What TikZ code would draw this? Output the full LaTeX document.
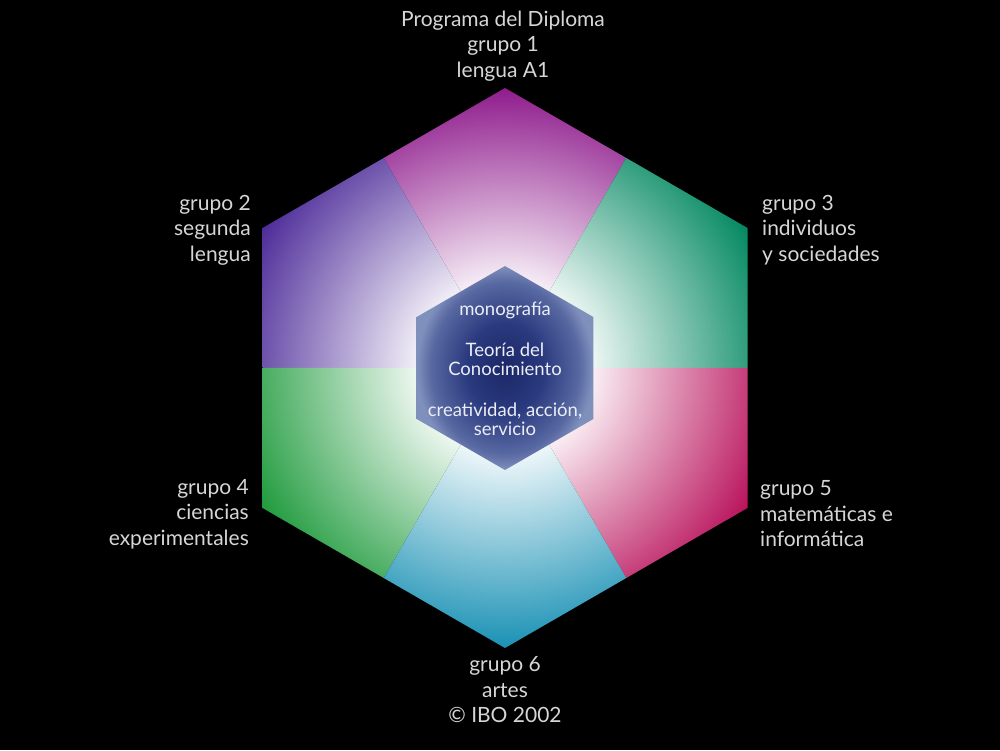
\documentclass[tikz,border=0pt]{standalone}
\usepackage{fontspec}
\setmainfont{Lato}
\definecolor{cA}{HTML}{8E1A8C}
\definecolor{cB}{HTML}{4C2A98}
\definecolor{cC}{HTML}{00875F}
\definecolor{cD}{HTML}{1E9A3C}
\definecolor{cE}{HTML}{B8105A}
\definecolor{cF}{HTML}{1890B4}
\definecolor{txt}{HTML}{D6D6D6}
\definecolor{navyA}{HTML}{1B2767}
\definecolor{navyB}{HTML}{2A3A7E}
\definecolor{navyC}{HTML}{5868A2}
\definecolor{navyD}{HTML}{8090BC}
\pgfdeclareradialshading{shA}{\pgfpoint{0bp}{0bp}}{color(0bp)=(white); color(6bp)=(white); color(23.5bp)=(cA); color(50bp)=(cA)}
\pgfdeclareradialshading{shB}{\pgfpoint{0bp}{0bp}}{color(0bp)=(white); color(6bp)=(white); color(23.5bp)=(cB); color(50bp)=(cB)}
\pgfdeclareradialshading{shC}{\pgfpoint{0bp}{0bp}}{color(0bp)=(white); color(6bp)=(white); color(23.5bp)=(cC); color(50bp)=(cC)}
\pgfdeclareradialshading{shD}{\pgfpoint{0bp}{0bp}}{color(0bp)=(white); color(6bp)=(white); color(23.5bp)=(cD); color(50bp)=(cD)}
\pgfdeclareradialshading{shE}{\pgfpoint{0bp}{0bp}}{color(0bp)=(white); color(6bp)=(white); color(23.5bp)=(cE); color(50bp)=(cE)}
\pgfdeclareradialshading{shF}{\pgfpoint{0bp}{0bp}}{color(0bp)=(white); color(6bp)=(white); color(23.5bp)=(cF); color(50bp)=(cF)}
\pgfdeclareradialshading{shIn}{\pgfpoint{0bp}{0bp}}{color(0bp)=(navyA); color(11bp)=(navyB); color(21bp)=(navyC); color(25bp)=(navyD); color(50bp)=(navyD)}
\tikzset{
  lbl/.style={text=txt, font=\fontsize{21}{25.5}\selectfont, inner sep=0pt},
  inlbl/.style={text=white!85!navyD, font=\fontsize{18.5}{19}\selectfont, inner sep=0pt, align=center}
}
\newcommand{\sector}[3]{%
  \begin{scope}
    \clip (0,0) -- (#1-30:242.5) -- (#1:280) -- (#1+30:242.5) -- cycle;
    \shade[shading=#2] (0,0) circle (300);
  \end{scope}}
\begin{document}
\begin{tikzpicture}[x=1pt,y=1pt]
\fill[black] (0,0) rectangle (1000,750);
\useasboundingbox (0,0) rectangle (1000,750);
\begin{scope}[shift={(505,382)}]
  \sector{90}{shA}{}
  \sector{150}{shB}{}
  \sector{30}{shC}{}
  \sector{210}{shD}{}
  \sector{330}{shE}{}
  \sector{270}{shF}{}
  \shade[shading=shIn] (90:102) -- (150:102) -- (210:102) -- (270:102) -- (330:102) -- (30:102) -- cycle;
  \node[inlbl] (mono) at (0,58) {monografía};
  \node[inlbl] (tdc) at (0,9) {Teoría del\\Conocimiento};
  \node[inlbl] (cas) at (0,-51) {creatividad, acción,\\servicio};
\end{scope}
\node[lbl, align=center] (g1) at (503,704) {Programa del Diploma\\grupo 1\\lengua A1};
\node[lbl, align=right, anchor=east] (g2) at (251,520) {grupo 2\\segunda\\lengua};
\node[lbl, align=left, anchor=west] (g3) at (762,520) {grupo 3\\individuos\\y sociedades};
\node[lbl, align=right, anchor=east] (g4) at (249,236) {grupo 4\\ciencias\\experimentales};
\node[lbl, align=left, anchor=west] (g5) at (760,236) {grupo 5\\matemáticas e\\informática};
\node[lbl, align=center] (g6) at (505,60) {grupo 6\\artes\\© IBO 2002};
\end{tikzpicture}
\end{document}
